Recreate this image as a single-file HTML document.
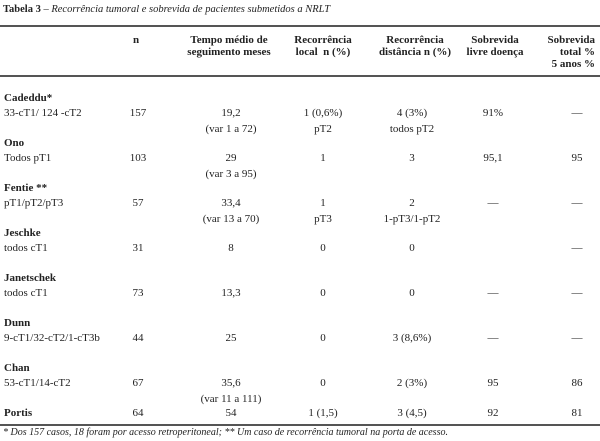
<!DOCTYPE html>
<html><head><meta charset="utf-8"><style>
body{margin:0;width:600px;height:441px;background:#fff;overflow:hidden;font-family:"Liberation Serif",serif;color:#222}
.t{position:absolute;font-size:11px;white-space:nowrap;line-height:12px}
.c{transform:translateX(-50%);text-align:center}
.b{font-weight:bold}
.rule{position:absolute;left:0;width:600px;background:#555}
</style></head><body>
<div class="t" style="left:3px;top:4px;font-size:10.5px"><b>Tabela 3</b> – <i>Recorrência tumoral e sobrevida de pacientes submetidos a NRLT</i></div>
<div class="rule" style="top:25px;height:2px"></div>
<div>
<div class="t b c" style="left:136px;top:34px">n</div>
<div class="t b c" style="left:229px;top:34px">Tempo médio de<br>seguimento meses</div>
<div class="t b c" style="left:323px;top:34px">Recorrência<br>local&nbsp; n (%)</div>
<div class="t b c" style="left:415px;top:34px">Recorrência<br>distância n (%)</div>
<div class="t b c" style="left:495px;top:34px">Sobrevida<br>livre doença</div>
<div class="t b" style="left:543px;top:34px;text-align:right;width:52px">Sobrevida<br>total %<br>5 anos %</div>
</div>
<div class="rule" style="top:75px;height:1.5px"></div>
<div id="rows"></div>
<div class="rule" style="top:424px;height:1.5px"></div>
<div class="t" style="left:3px;top:427px;font-size:10px"><i>* Dos 157 casos, 18 foram por acesso retroperitoneal; ** Um caso de recorrência tumoral na porta de acesso.</i></div>
<script>
const names=["Cadeddu*","Ono","Fentie **","Jeschke","Janetschek","Dunn","Chan","Portis"];
const subs=["33-cT1/ 124 -cT2","Todos pT1","pT1/pT2/pT3","todos cT1","todos cT1","9-cT1/32-cT2/1-cT3b","53-cT1/14-cT2",""];
const nVals=["157","103","57","31","73","44","67","64"];
const tempo=[["19,2","(var 1 a 72)"],["29","(var 3 a 95)"],["33,4","(var 13 a 70)"],["8",""],["13,3",""],["25",""],["35,6","(var 11 a 111)"],["54",""]];
const local=[["1 (0,6%)","pT2"],["1",""],["1","pT3"],["0",""],["0",""],["0",""],["0",""],["1 (1,5)",""]];
const dist=[["4 (3%)","todos pT2"],["3",""],["2","1-pT3/1-pT2"],["0",""],["0",""],["3 (8,6%)",""],["2 (3%)",""],["3 (4,5)",""]];
const sld=["91%","95,1","—","","—","—","95","92"];
const total=["—","95","—","—","—","—","86","81"];
const tops=[92,137,182,227,272,317,362,407];
const root=document.getElementById('rows');
function add(txt,x,y,cls,name){const d=document.createElement('div');d.className='t '+cls;d.style.left=x+'px';d.style.top=y+'px';d.textContent=txt;


root.appendChild(d);}
names.forEach((nm,i)=>{
 const y=tops[i];const last=i===7;const y1=last?y:y+15;
 add(nm,4,y,'b','study-name');
 if(subs[i])add(subs[i],4,y1,'','study-subgroup');
 add(nVals[i],138,y1,'c','n-value');
 add(tempo[i][0],231,y1,'c','followup-value');
 if(tempo[i][1])add(tempo[i][1],231,y1+16,'c','followup-range');
 add(local[i][0],323,y1,'c','local-recurrence');
 if(local[i][1])add(local[i][1],323,y1+16,'c','local-recurrence-detail');
 add(dist[i][0],412,y1,'c','distant-recurrence');
 if(dist[i][1])add(dist[i][1],412,y1+16,'c','distant-recurrence-detail');
 if(sld[i])add(sld[i],493,y1,'c','disease-free-survival');
 add(total[i],577,y1,'c','overall-survival');
});
</script>
</body></html>
